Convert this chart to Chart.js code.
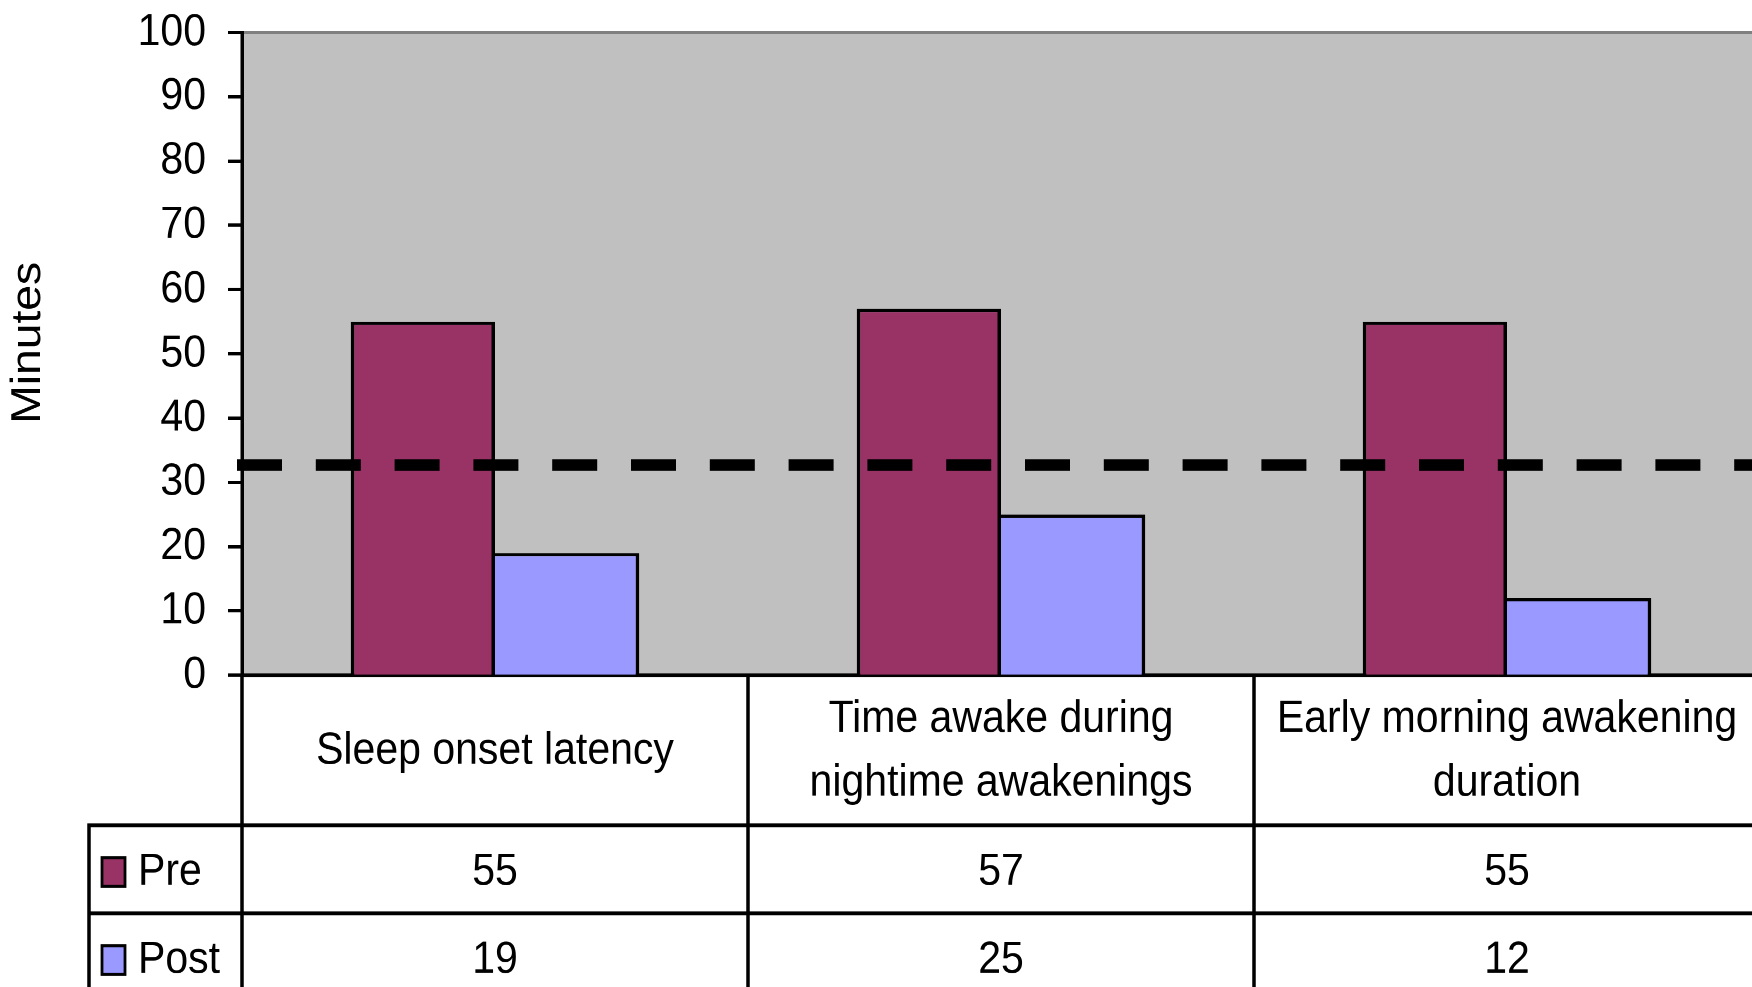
<!DOCTYPE html>
<html>
<head>
<meta charset="utf-8">
<script src="https://cdn.jsdelivr.net/npm/chart.js@4.4.1/dist/chart.umd.min.js"></script>
<style>
  html, body { margin: 0; padding: 0; background: #fff; overflow: hidden; width: 1752px; height: 987px; }
  #wrap { width: 1752px; height: 987px; overflow: hidden; position: relative; }
  canvas { display: block; }
</style>
</head>
<body>
<div id="wrap"><canvas id="c" width="1760" height="897" style="width:1760px;height:987px"></canvas></div>
<script>
// ---- data ----
const categories = [
  ["Sleep onset latency"],
  ["Time awake during", "nightime awakenings"],
  ["Early morning awakening", "duration"]
];
const seriesNames = ["Pre", "Post"];
const preValues = [55, 57, 55];
const postValues = [19, 25, 12];
const thresholdMinutes = 32.7;
const yMin = 0;
const yMax = 100;
const yStep = 10;
const yTitle = "Minutes";

// ---- styling ----
const FONT = "'Liberation Sans', Arial, Helvetica, sans-serif";
const FONT_SIZE = 41;
const PRE_COLOR = '#993366';
const POST_COLOR = '#9999FF';
const PLOT_BG = '#C0C0C0';
const seriesColors = [PRE_COLOR, POST_COLOR];

// layout of the data table under the plot (canvas units)
const PLOT_TOP = 29.5;
const PLOT_BOTTOM = 613.6;
const ROW_PRE_TOP = 750;
const ROW_POST_TOP = 830;
const ROW_POST_BOTTOM = 910;
const LEGEND_LEFT = 89;
const RULE = 3.5;

const frame = {
  id: 'frame',
  beforeDraw(chart) {
    const { ctx, chartArea: a } = chart;
    ctx.save();
    ctx.fillStyle = '#fff';
    ctx.fillRect(0, 0, chart.width, chart.height);
    ctx.fillStyle = PLOT_BG;
    ctx.fillRect(a.left, a.top, a.right - a.left, a.bottom - a.top);
    ctx.strokeStyle = '#808080';
    ctx.lineWidth = 3;
    ctx.beginPath();
    ctx.moveTo(a.left, a.top);
    ctx.lineTo(a.right, a.top);
    ctx.stroke();
    ctx.restore();
  },
  afterDatasetsDraw(chart) {
    // dashed reference level across the plot
    const { ctx, chartArea: a } = chart;
    const y = chart.scales.y.getPixelForValue(thresholdMinutes);
    ctx.save();
    ctx.strokeStyle = '#000';
    ctx.lineWidth = 10.5;
    ctx.lineCap = 'butt';
    ctx.setLineDash([45, 33.8]);
    ctx.beginPath();
    ctx.moveTo(a.left - 5, y);
    ctx.lineTo(chart.width, y);
    ctx.stroke();
    ctx.restore();
  },
  afterDraw(chart) {
    const { ctx, chartArea: a } = chart;
    const xs = chart.scales.x;
    const n = categories.length;
    const right = chart.width;
    ctx.save();
    ctx.strokeStyle = '#000';
    ctx.lineWidth = RULE;

    // vertical rules of the table
    const verticals = [a.left];
    for (let i = 0; i < n - 1; i++) {
      verticals.push((xs.getPixelForValue(i) + xs.getPixelForValue(i + 1)) / 2);
    }
    ctx.beginPath();
    verticals.forEach(x => { ctx.moveTo(x, a.bottom); ctx.lineTo(x, chart.height); });
    ctx.moveTo(LEGEND_LEFT, ROW_PRE_TOP);
    ctx.lineTo(LEGEND_LEFT, chart.height);
    // horizontal rules
    [ROW_PRE_TOP, ROW_POST_TOP, ROW_POST_BOTTOM].forEach(y => {
      ctx.moveTo(LEGEND_LEFT - RULE / 2, y);
      ctx.lineTo(right, y);
    });
    ctx.stroke();

    // category headers
    ctx.fillStyle = '#000';
    ctx.font = `${FONT_SIZE}px ${FONT}`;
    ctx.textAlign = 'center';
    ctx.textBaseline = 'middle';
    const headMid = (a.bottom + ROW_PRE_TOP) / 2 + 1;
    const lineGap = 58.2;
    categories.forEach((lines, i) => {
      const cx = xs.getPixelForValue(i);
      const y0 = headMid - (lines.length - 1) * lineGap / 2;
      lines.forEach((t, k) => ctx.fillText(t, cx, y0 + k * lineGap));
    });

    // value rows
    const rows = [
      { name: seriesNames[0], color: seriesColors[0], values: preValues, top: ROW_PRE_TOP, bottom: ROW_POST_TOP },
      { name: seriesNames[1], color: seriesColors[1], values: postValues, top: ROW_POST_TOP, bottom: ROW_POST_BOTTOM }
    ];
    rows.forEach(r => {
      const mid = (r.top + r.bottom) / 2 + 2.5;
      ctx.textAlign = 'center';
      r.values.forEach((v, i) => ctx.fillText(String(v), xs.getPixelForValue(i), mid));
      // legend key
      ctx.fillStyle = r.color;
      ctx.fillRect(102, mid - 13, 23, 26);
      ctx.lineWidth = 2.8;
      ctx.strokeRect(102, mid - 13, 23, 26);
      ctx.fillStyle = '#000';
      ctx.textAlign = 'left';
      ctx.fillText(r.name, 138, mid);
    });

    // y-axis title
    ctx.save();
    ctx.translate(28.5, 311.5);
    ctx.rotate(-Math.PI / 2);
    ctx.textAlign = 'center';
    ctx.textBaseline = 'middle';
    ctx.font = `42px ${FONT}`;
    ctx.fillText(yTitle, 0, 0);
    ctx.restore();

    ctx.restore();
  }
};

const canvas = document.getElementById('c');
new Chart(canvas, {
  type: 'bar',
  data: {
    labels: categories.map(c => c.join(' ')),
    datasets: [
      {
        label: seriesNames[0],
        data: preValues,
        backgroundColor: PRE_COLOR,
        borderColor: '#000',
        borderWidth: { top: 3, left: 3.5, right: 3.5, bottom: 0 },
        borderSkipped: false
      },
      {
        label: seriesNames[1],
        data: postValues,
        backgroundColor: POST_COLOR,
        borderColor: '#000',
        borderWidth: { top: 3, left: 0, right: 3.5, bottom: 0 },
        borderSkipped: false
      }
    ]
  },
  options: {
    responsive: false,
    animation: false,
    devicePixelRatio: 2,
    layout: { padding: { top: PLOT_TOP, left: 0, right: 0, bottom: 0 } },
    datasets: { bar: { barPercentage: 1, categoryPercentage: 0.57 } },
    plugins: { legend: { display: false }, tooltip: { enabled: false } },
    scales: {
      x: {
        grid: { display: false, drawTicks: false },
        ticks: { display: false },
        border: { display: true, color: '#000', width: 3.5 },
        afterFit(s) { s.height = s.chart.height - PLOT_BOTTOM; }
      },
      y: {
        min: yMin,
        max: yMax,
        ticks: {
          stepSize: yStep,
          autoSkip: false,
          padding: 22,
          color: '#000',
          font: { family: FONT, size: FONT_SIZE, lineHeight: 0.3 }
        },
        grid: {
          display: true,
          drawOnChartArea: false,
          drawTicks: true,
          tickLength: 14,
          tickWidth: 3,
          tickColor: '#000'
        },
        border: { display: true, color: '#000', width: 3.5 },
        afterFit(s) {
          s.width = 242;
          s.paddingTop = 0;
          s.paddingBottom = 0;
        }
      }
    }
  },
  plugins: [frame]
});
canvas.style.width = '1760px';
canvas.style.height = '987px';
</script>
</body>
</html>
